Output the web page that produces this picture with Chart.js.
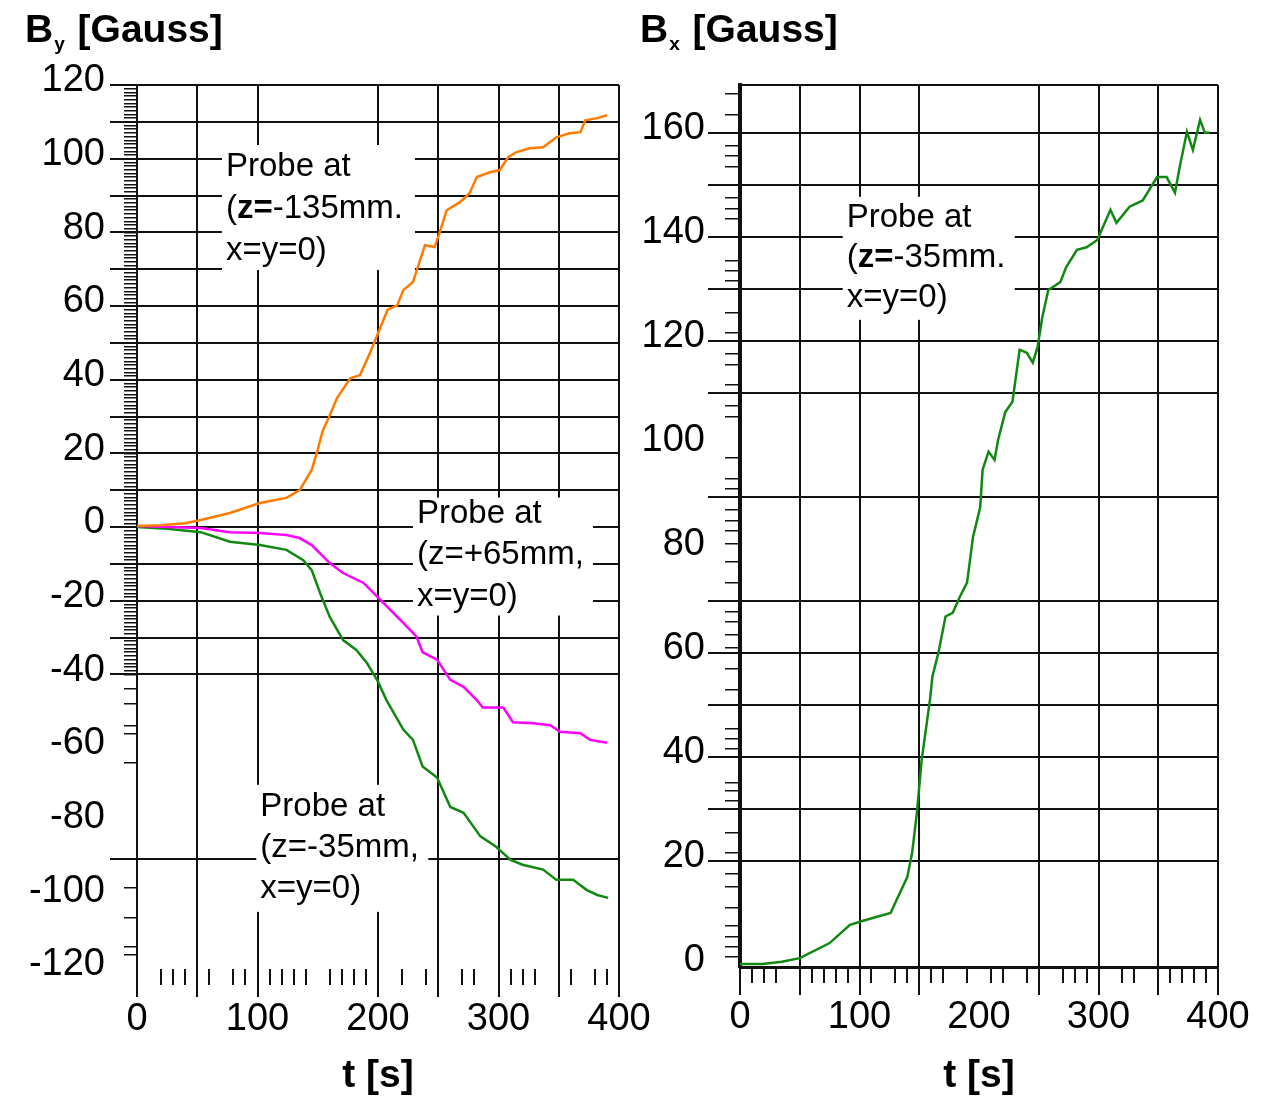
<!DOCTYPE html>
<html>
<head>
<meta charset="utf-8">
<script src="https://cdn.jsdelivr.net/npm/chart.js@4.4.1/dist/chart.umd.min.js"></script>
<style>
  body { margin: 0; background: #fff; }
  #wrap { position: relative; width: 1276px; height: 1100px; overflow: hidden; }
  canvas { position: absolute; top: 0; }
  #byChart { left: 0; }
  #bxChart { left: 630px; }
</style>
</head>
<body>
<div id="wrap">
  <canvas id="byChart" width="660" height="1100"></canvas>
  <canvas id="bxChart" width="646" height="1100"></canvas>
</div>
<script>
const FONT = '"Liberation Sans", Arial, sans-serif';

// --- left panel: By, three probes ---
const tOrange = [0, 20, 40, 53, 77, 102, 124, 135, 145, 150, 154, 159, 166, 177, 185, 193, 200, 208, 216, 221, 229, 235, 239, 247, 251, 257, 268, 276, 282, 293, 301, 308, 315, 326, 337, 348, 359, 368, 372, 382, 390];
const vOrange = [0.3, 0.5, 1.0, 1.9, 3.8, 6.5, 7.9, 10, 15.5, 21, 26, 29.6, 35, 40.4, 41.2, 47, 52.6, 59, 60.2, 64.3, 66.5, 72.5, 76.5, 76, 79.8, 86, 88.2, 90.6, 95, 96.3, 96.9, 100.4, 101.8, 102.8, 103.1, 105.8, 106.9, 107.2, 110.4, 111, 111.8];

const tMagenta = [0, 25, 53, 77, 102, 124, 135, 145, 160, 171, 188, 202, 216, 221, 232, 237, 249, 260, 271, 282, 287, 304, 312, 329, 343, 351, 368, 376, 390];
const vMagenta = [0.3, 0, -0.3, -1.4, -1.6, -2.2, -3, -4.9, -9.8, -12.5, -15.2, -19.8, -24.4, -26, -29.8, -34, -36, -41.5, -43.4, -47, -49, -49, -53, -53.3, -53.8, -55.6, -56, -57.8, -58.6];

const tGreenL = [0, 25, 53, 77, 102, 124, 138, 145, 152, 160, 171, 182, 191, 200, 207, 221, 229, 237, 249, 260, 271, 285, 298, 310, 320, 337, 348, 362, 373, 382, 391];
const vGreenL = [0, -0.5, -1.4, -4, -4.9, -6.2, -9, -11.7, -18, -24.4, -30.7, -33.4, -37, -42, -47, -55, -57.8, -65, -68, -76, -77.6, -84, -86.8, -90.4, -91.7, -93, -95.8, -95.8, -98.5, -99.9, -100.7];

// --- right panel: Bx ---
const tGreenR = [0, 19, 35, 50, 75, 92, 103, 126, 131, 140, 144, 148, 152, 159, 161, 166, 172, 178, 184, 190, 195, 201, 203, 208, 213, 216, 222, 228, 234, 240, 245, 249, 253, 258, 268, 273, 282, 290, 299, 310, 315, 326, 337, 349, 357, 364, 368, 374, 379, 385, 389, 393];
const vGreenR = [0.2, 0.2, 0.6, 1.3, 4.2, 7.7, 8.5, 10, 12.5, 16.9, 21.5, 29.2, 39.4, 51, 55.4, 60, 67, 67.7, 70.8, 73.5, 82.3, 88, 95.2, 98.7, 97.1, 101, 106.3, 108.3, 118.3, 117.7, 115.8, 118.8, 124.6, 129.8, 131.3, 134.2, 137.5, 138, 139.4, 145.2, 142.7, 145.8, 147, 151.5, 151.5, 148.5, 153.5, 160.2, 156.7, 162.5, 160, 160];

// axis ticks
const tTicks = [0, 50, 100, 150, 200, 250, 300, 350, 400];
const yTicksLeft = [-120, -110, -100, -90, -80, -70, -60, -50, -40, -30, -20, -10, 0, 10, 20, 30, 40, 50, 60, 70, 80, 90, 100, 110, 120];
const yTicksRight = [0, 10, 20, 30, 40, 50, 60, 70, 80, 90, 100, 110, 120, 130, 140, 150, 160];
const yGridLeft = [-90, -40, -30, -20, -10, 0, 10, 20, 30, 40, 50, 60, 70, 80, 90, 100, 110, 120];
const yGridRight = [20, 30, 40, 50, 60, 70, 90, 110, 120, 130, 140, 150, 160];
const tMinorLeft = [20, 30, 40, 60, 80, 90, 110, 120, 130, 140, 160, 170, 180, 190, 220, 240, 270, 280, 310, 320, 330, 360, 380, 390];
const tMinorRight = [10, 20, 30, 60, 70, 80, 90, 110, 130, 140, 160, 170, 190, 210, 220, 240, 270, 280, 290, 320, 330, 360, 370, 380, 390];
const yMinorLeftSparse = [-44, -48, -54, -56, -64, -98, -106, -114, -116];
const yMinorRight = [1.5, 3.5, 5.5, 7.5, 11, 15, 17.5, 21.5, 25.5, 31.5, 33.5, 35, 41.5, 43.5, 45.5, 53, 57, 61, 63.5, 66, 68, 73.5, 77.5, 81, 83.5, 85.5, 87.5, 91.5, 93.5, 97.5, 105.5, 107.5, 111.5, 115.5, 117.5, 121.5, 125.5, 131.5, 133.5, 135.5, 143.5, 145.5, 147.5, 153.5, 155.5, 157.5, 163.5, 167.5];

const yMinorLeft = [...yMinorLeftSparse];
for (let v = -40; v <= 120; v++) yMinorLeft.push(v);

const pts = (ts, vs) => ts.map((t, i) => ({ x: t, y: vs[i] }));
const none = 'rgba(0,0,0,0)';

const headerPlugin = {
    id: 'header',
    afterDraw(chart, args, opts) {
        const ctx = chart.ctx;
        ctx.save();
        ctx.fillStyle = '#000';
        let x = opts.x;
        ctx.font = 'bold 39px ' + FONT;
        ctx.fillText('B', x, 42);
        x += ctx.measureText('B').width + 1;
        ctx.font = 'bold 19px ' + FONT;
        ctx.fillText(opts.sub, x, 50);
        x += ctx.measureText(opts.sub).width + 2;
        ctx.font = 'bold 39px ' + FONT;
        ctx.fillText(' [Gauss]', x, 42);
        if (opts.frameTop) {
            const a = chart.chartArea;
            ctx.strokeStyle = '#111';
            ctx.lineWidth = 2;
            ctx.beginPath();
            ctx.moveTo(a.left, a.top);
            ctx.lineTo(a.right, a.top);
            ctx.stroke();
        }
        ctx.restore();
    }
};

const notePlugin = {
    id: 'notes',
    beforeDatasetsDraw(chart, args, opts) {
        const { ctx, scales: { x, y } } = chart;
        (opts.items || []).forEach(n => {
            const px = x.getPixelForValue(n.t), py = y.getPixelForValue(n.v);
            ctx.save();
            ctx.fillStyle = '#fff';
            ctx.fillRect(px, py, n.w, n.h);
            ctx.fillStyle = '#000';
            ctx.textBaseline = 'middle';
            n.lines.forEach((ln, i) => {
                let cx = px + 4;
                ln.forEach(([txt, bold]) => {
                    ctx.font = (bold ? 'bold ' : '') + '33px ' + FONT;
                    ctx.fillText(txt, cx, py + n.first + i * n.gap);
                    cx += ctx.measureText(txt).width;
                });
            });
            ctx.restore();
        });
    }
};

function makeChart(id, o) {
    return new Chart(document.getElementById(id), {
        type: 'line',
        data: {
            datasets: o.series.map(s => ({
                data: s.data, borderColor: s.color, borderWidth: 2.5,
                pointRadius: 0, tension: 0, xAxisID: 'x', yAxisID: 'y'
            }))
        },
        options: {
            responsive: false,
            animation: false,
            layout: { padding: o.padding },
            plugins: {
                legend: { display: false },
                tooltip: { enabled: false },
                header: o.header,
                notes: { items: o.notes }
            },
            scales: {
                x: {
                    type: 'linear', axis: 'x', position: 'bottom', weight: 1, min: 0, max: 400,
                    afterBuildTicks: s => { s.ticks = tTicks.map(v => ({ value: v })); },
                    afterFit: s => { s.height = o.xHeight; },
                    grid: {
                        color: c => (c.tick && c.tick.value === o.tSkip) ? none : '#111',
                        lineWidth: 2, tickLength: 28
                    },
                    border: o.xBorder,
                    ticks: {
                        autoSkip: false, maxRotation: 0, padding: 0, color: '#000',
                        font: { size: 38, family: FONT },
                        callback: v => v % 100 === 0 ? String(v) : ''
                    },
                    title: {
                        display: true, text: 't [s]', color: '#000',
                        font: { size: 39, weight: 'bold', family: FONT },
                        padding: { top: 0, bottom: 0 }
                    }
                },
                xMinor: {
                    type: 'linear', axis: 'x', position: 'bottom', weight: 0, min: 0, max: 400,
                    afterBuildTicks: s => { s.ticks = o.tMinor.map(v => ({ value: v })); },
                    afterFit: s => { s.height = 0; },
                    grid: { drawOnChartArea: false, color: '#111', lineWidth: 2, tickLength: 16 },
                    border: { display: false },
                    ticks: { display: false, autoSkip: false }
                },
                y: {
                    type: 'linear', axis: 'y', position: 'left', weight: 1, min: o.yMin, max: o.yMax,
                    afterBuildTicks: s => { s.ticks = o.yTicks.map(v => ({ value: v })); },
                    afterFit: s => { s.width = o.yWidth; },
                    grid: {
                        color: c => (c.tick && o.yGrid.includes(c.tick.value)) ? '#111' : none,
                        lineWidth: 2, tickLength: o.yTickLen
                    },
                    border: o.yBorder,
                    ticks: {
                        autoSkip: false, padding: o.yPad, labelOffset: -4, color: '#000',
                        font: { size: 38, family: FONT },
                        callback: v => v % 20 === 0 ? String(v) : ''
                    }
                },
                yMinor: {
                    type: 'linear', axis: 'y', position: 'left', weight: 0, min: o.yMin, max: o.yMax,
                    afterBuildTicks: s => { s.ticks = o.yMinor.map(v => ({ value: v })); },
                    afterFit: s => { s.width = 0; },
                    grid: { drawOnChartArea: false, color: '#111', lineWidth: 1.5, tickLength: o.yMinorLen },
                    border: { display: false },
                    ticks: { display: false, autoSkip: false }
                }
            }
        },
        plugins: [headerPlugin, notePlugin]
    });
}

makeChart('byChart', {
    series: [
        { data: pts(tOrange, vOrange), color: '#ff7a00' },
        { data: pts(tMagenta, vMagenta), color: '#ff00ff' },
        { data: pts(tGreenL, vGreenL), color: '#118811' }
    ],
    padding: { top: 85, right: 41, left: 0, bottom: 0 },
    header: { x: 25, sub: 'y' },
    notes: [
        { t: 70.5, v: 103.7, w: 193, h: 125, first: 22, gap: 42,
          lines: [[['Probe at', 0]], [['(', 0], ['z=', 1], ['-135mm.', 0]], [['x=y=0)', 0]]] },
        { t: 229, v: 8, w: 180, h: 118, first: 16, gap: 41.5,
          lines: [[['Probe at', 0]], [['(z=+65mm,', 0]], [['x=y=0)', 0]]] },
        { t: 99, v: -70, w: 172, h: 127, first: 22, gap: 41,
          lines: [[['Probe at', 0]], [['(z=-35mm,', 0]], [['x=y=0)', 0]]] }
    ],
    xHeight: 131, tSkip: 150, tMinor: tMinorLeft,
    xBorder: { display: false },
    yMin: -120, yMax: 120, yTicks: yTicksLeft, yGrid: yGridLeft, yMinor: yMinorLeft,
    yWidth: 137, yTickLen: 27, yPad: 5, yMinorLen: 13,
    yBorder: { display: true, color: '#111', width: 2 }
});

makeChart('bxChart', {
    series: [
        { data: pts(tGreenR, vGreenR), color: '#118811' }
    ],
    padding: { top: 85, right: 58, left: 0, bottom: 0 },
    header: { x: 10, sub: 'x', frameTop: true },
    notes: [
        { t: 86, v: 147.7, w: 172, h: 123, first: 21, gap: 40,
          lines: [[['Probe at', 0]], [['(', 0], ['z=', 1], ['-35mm.', 0]], [['x=y=0)', 0]]] }
    ],
    xHeight: 133, tSkip: 200, tMinor: tMinorRight,
    xBorder: { display: true, color: '#111', width: 3 },
    yMin: -0.4, yMax: 169.2, yTicks: yTicksRight, yGrid: yGridRight, yMinor: yMinorRight,
    yWidth: 110, yTickLen: 32, yPad: 3, yMinorLen: 15,
    yBorder: { display: true, color: '#111', width: 4 }
});
</script>
</body>
</html>
